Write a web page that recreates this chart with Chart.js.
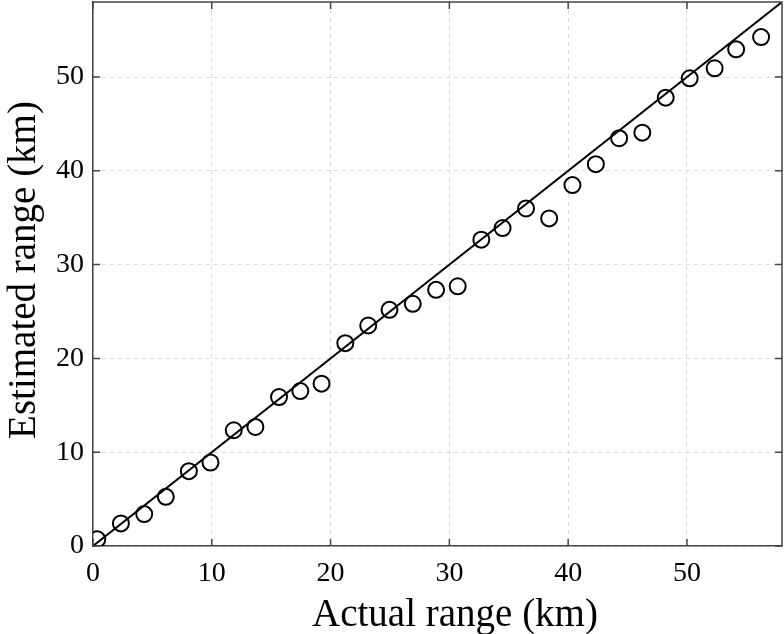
<!DOCTYPE html>
<html>
<head>
<meta charset="utf-8">
<script src="https://cdn.jsdelivr.net/npm/chart.js@4.4.0/dist/chart.umd.min.js"></script>
<style>
  html, body { margin: 0; padding: 0; background: #fff; }
  #wrap { width: 784px; height: 634px; }
</style>
</head>
<body>
<div id="wrap"><canvas id="canvas"></canvas></div>
<script>
// actual vs estimated range
const actualKm = [0.36, 2.35, 4.31, 6.13, 8.07, 9.89, 11.85, 13.67, 15.66, 17.45,
  19.24, 21.24, 23.17, 24.96, 26.92, 28.88, 30.70, 32.69, 34.48, 36.45,
  38.40, 40.36, 42.33, 44.29, 46.24, 48.21, 50.23, 52.33, 54.14, 56.24];
const estimatedKm = [0.71, 2.41, 3.40, 5.24, 7.98, 8.90, 12.34, 12.69, 15.88, 16.52,
  17.31, 21.63, 23.51, 25.18, 25.82, 27.31, 27.69, 32.66, 33.90, 35.99,
  34.93, 38.48, 40.71, 43.48, 44.07, 47.80, 49.86, 50.93, 52.95, 54.26];
const idealLine = [0, 58];
const xTicks = [0, 10, 20, 30, 40, 50];
const yTicks = [0, 10, 20, 30, 40, 50];
const axisMax = 58;
const xTitle = "Actual range (km)";
const yTitle = "Estimated range (km)";

const points = actualKm.map((x, i) => ({ x: x, y: estimatedKm[i] }));
const linePts = idealLine.map((v) => ({ x: v, y: v }));

const tickFont = { family: "Liberation Serif", size: 28 };
const titleFont = "39px 'Liberation Serif'";

// inward ticks on all four sides, top/right frame, axis titles
const boxTicks = {
  id: "boxTicks",
  afterDraw(chart) {
    const { ctx, chartArea: a, scales } = chart;
    const len = 7;
    ctx.save();
    ctx.strokeStyle = "#444";
    ctx.lineWidth = 1.5;
    ctx.beginPath();
    ctx.moveTo(a.left, a.top);
    ctx.lineTo(a.right, a.top);
    ctx.lineTo(a.right, a.bottom);
    ctx.stroke();
    ctx.beginPath();
    for (const v of xTicks) {
      const px = scales.x.getPixelForValue(v);
      ctx.moveTo(px, a.bottom);
      ctx.lineTo(px, a.bottom - len);
      ctx.moveTo(px, a.top);
      ctx.lineTo(px, a.top + len);
    }
    for (const v of yTicks) {
      const py = scales.y.getPixelForValue(v);
      ctx.moveTo(a.left, py);
      ctx.lineTo(a.left + len, py);
      ctx.moveTo(a.right, py);
      ctx.lineTo(a.right - len, py);
    }
    ctx.stroke();

    // titles (the original sits a bit off the plot centre)
    ctx.fillStyle = "#000";
    ctx.font = titleFont;
    ctx.textAlign = "center";
    ctx.textBaseline = "alphabetic";
    ctx.fillText(xTitle, 455, 626);
    ctx.translate(35, 270);
    ctx.rotate(-Math.PI / 2);
    ctx.fillText(yTitle, 0, 0);
    ctx.restore();
  },
};

function noPad(s) {
  s.paddingTop = 0;
  s.paddingBottom = 0;
  s.paddingLeft = 0;
  s.paddingRight = 0;
}

new Chart(document.getElementById("canvas"), {
  type: "scatter",
  data: {
    datasets: [
      {
        label: "ideal",
        type: "line",
        data: linePts,
        borderColor: "#000",
        borderWidth: 2,
        pointRadius: 0,
        fill: false,
      },
      {
        label: "estimates",
        data: points,
        pointStyle: "circle",
        pointRadius: 8,
        pointBorderWidth: 2,
        pointBorderColor: "#000",
        pointBackgroundColor: "rgba(0,0,0,0)",
      },
    ],
  },
  options: {
    responsive: true,
    maintainAspectRatio: false,
    animation: false,
    layout: { autoPadding: false, padding: { top: 2, right: 2, left: 0, bottom: 0 } },
    plugins: {
      legend: { display: false },
      tooltip: { enabled: false },
    },
    scales: {
      x: {
        type: "linear",
        min: 0,
        max: axisMax,
        afterBuildTicks: (s) => { s.ticks = xTicks.map((v) => ({ value: v })); },
        afterFit: (s) => { s.height = 88; noPad(s); },
        grid: { color: "#d9d9d9", lineWidth: 1, drawTicks: false },
        border: { color: "#444", width: 1.5, dash: [4, 4] },
        ticks: { color: "#000", font: tickFont, padding: 11, maxRotation: 0 },
      },
      y: {
        type: "linear",
        min: 0,
        max: axisMax,
        afterBuildTicks: (s) => { s.ticks = yTicks.map((v) => ({ value: v })); },
        afterFit: (s) => { s.width = 93; noPad(s); },
        grid: { color: "#d9d9d9", lineWidth: 1, drawTicks: false },
        border: { color: "#444", width: 1.5, dash: [4, 4] },
        ticks: { color: "#000", font: tickFont, padding: 9 },
      },
    },
  },
  plugins: [boxTicks],
});
</script>
</body>
</html>
